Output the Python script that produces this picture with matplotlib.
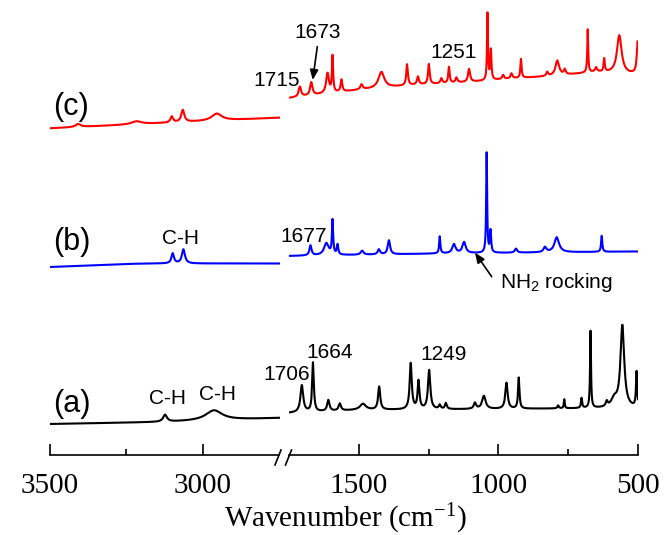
import matplotlib
matplotlib.use("Agg")
import matplotlib.pyplot as plt
import numpy as np

W, H = 664, 535

# baselines: (wavenumber, height) anchors, height in pixel-like units above the axis
a_hi_base = [(2750, 37), (3125, 33), (3500, 31)]
a_lo_base = [(500, 47), (1000, 46), (1500, 45), (1750, 42)]
b_hi_base = [(2750, 191.5), (3200, 191.5), (3500, 188)]
b_lo_base = [(500, 203.5), (1200, 201.5), (1750, 199)]
c_hi_base = [(2750, 337.3), (3125, 332), (3500, 326.7)]
c_lo_base = [(530, 381), (650, 383), (800, 379), (950, 376.5), (1100, 373),
             (1300, 370), (1500, 365), (1750, 357)]

# peaks: (position cm-1, height, fwhm)
a_hi_peaks = [(3124, 7, 15), (2964, 10, 65)]
a_lo_peaks = [(1704, 27, 12), (1664, 49, 7), (1609, 11, 10), (1568, 7, 10),
              (1485, 6, 25), (1427, 23, 9), (1314, 46, 9), (1286, 28, 8),
              (1248, 39, 10), (1210, 4, 8), (1188, 6, 8), (1084, 6, 10),
              (1052, 13, 15), (971, 26, 10), (927, 31, 6), (786, 3, 6),
              (764, 9, 4), (702, 10, 5), (670, 77, 4), (612, 5, 8),
              (585, 8, 25), (556, 82, 16), (505, 35, 5)]
b_hi_peaks = [(3099, 10, 10), (3064, 14, 12)]
b_lo_peaks = [(1673, 10, 9), (1616, 12, 20), (1594, 34, 5), (1576, 10, 6),
              (1488, 4, 12), (1428, 5, 10), (1392, 14, 10), (1210, 17, 5),
              (1159, 9, 14), (1123, 11, 14), (1042, 100, 4), (1028, 22, 5),
              (937, 4, 10), (833, 5, 12), (791, 15, 20), (630, 16, 5)]
c_hi_peaks = [(3408, 3, 20), (3217, 3, 40), (3102, 6, 10), (3066, 12, 12),
              (2955, 7, 40)]
c_lo_peaks = [(1711, 10, 10), (1670, 13, 10), (1612, 20, 12), (1594, 36, 5),
              (1562, 12, 7), (1490, 5, 10), (1419, 16, 25), (1327, 21, 7),
              (1288, 8, 8), (1249, 20, 7), (1204, 5, 8), (1177, 16, 6),
              (1150, 5, 8), (1105, 13, 9), (1039, 67, 4), (1027, 30, 5),
              (983, 4, 8), (953, 5, 8), (919, 19, 5), (825, 4, 8),
              (789, 15, 16), (762, 5, 8), (680, 43, 4), (650, 4, 8),
              (621, 13, 5), (567, 38, 20), (501, 32, 8)]


def spectrum(w, base, peaks):
    bw, by = zip(*base)
    y = np.interp(w, bw, by)
    for p, h, fw in peaks:
        y = y + h / (1 + ((w - p) / (fw / 2)) ** 2)
    return y


w_hi = np.linspace(2750, 3500, 1500)
w_lo = np.linspace(500, 1750, 4000)

fig = plt.figure(figsize=(W / 100, H / 100), dpi=100)
axL = fig.add_axes([50 / W, 80 / H, 229.5 / W, 450 / H])
axR = fig.add_axes([289 / W, 80 / H, 349 / W, 450 / H])

lw = 1.5
for base_hi, pk_hi, base_lo, pk_lo, col in [
        (a_hi_base, a_hi_peaks, a_lo_base, a_lo_peaks, "black"),
        (b_hi_base, b_hi_peaks, b_lo_base, b_lo_peaks, "#0000ff"),
        (c_hi_base, c_hi_peaks, c_lo_base, c_lo_peaks, "#ff0000")]:
    axL.plot(w_hi, spectrum(w_hi, base_hi, pk_hi), color=col, lw=lw)
    axR.plot(w_lo, spectrum(w_lo, base_lo, pk_lo), color=col, lw=lw)

axL.set_xlim(3500, 2750)
axR.set_xlim(1750, 500)
axL.set_xticks([3500, 3000])
axL.set_xticks([3250], minor=True)
axR.set_xticks([1500, 1000, 500])
axR.set_xticks([1250, 750], minor=True)

for ax in (axL, axR):
    ax.set_ylim(0, 450)
    for s in ["top", "right", "left"]:
        ax.spines[s].set_visible(False)
    ax.spines["bottom"].set_linewidth(1.2)
    ax.set_yticks([])
    ax.tick_params(axis="x", which="major", direction="in", length=8, width=1.2, pad=13)
    ax.tick_params(axis="x", which="minor", direction="in", length=4, width=1.2)
    for lab in ax.get_xticklabels():
        lab.set_fontfamily("Liberation Serif")
        lab.set_fontsize(21)
    ax.patch.set_visible(False)


def fpx(x, y):
    return (x, H - y)


sans = "Liberation Sans"
labels = [("(a)", 53, 404, 22), ("C-H", 149, 398, 15), ("C-H", 199, 395, 15),
          ("1706", 263, 374, 15), ("1664", 306, 353, 15), ("1249", 420, 355, 15),
          ("(b)", 53, 242, 22), ("C-H", 162, 238, 15), ("1677", 280, 236, 15),
          (r"NH$\mathdefault{_2}$ rocking", 500, 282, 15),
          ("(c)", 53, 107, 22), ("1715", 253, 80, 15), ("1673", 294, 33, 15),
          ("1251", 430, 53, 15)]
for t, x, y, s in labels:
    fig.text(x / W, 1 - y / H, t, fontsize=s, family=sans, ha="left", va="center")

arrow = dict(arrowstyle="-|>,head_length=0.6,head_width=0.25", color="black", lw=1.2,
             shrinkA=0, shrinkB=0)
fig.add_artist(plt.Annotation("", xy=fpx(475, 252.7), xytext=fpx(491.7, 276.7),
                              xycoords="figure pixels", textcoords="figure pixels",
                              arrowprops=arrow))
fig.add_artist(plt.Annotation("", xy=fpx(312.7, 80), xytext=fpx(317.3, 46.7),
                              xycoords="figure pixels", textcoords="figure pixels",
                              arrowprops=arrow))

# axis break marks
for x0 in (275, 285.5):
    fig.add_artist(plt.Line2D([x0 / W, (x0 + 6) / W], [(H - 465) / H, (H - 450) / H],
                              color="black", lw=1.2))

fig.text(345 / W, 1 - 527 / H, r"Wavenumber (cm$\mathdefault{^{-1}}$)", fontsize=21,
         family="Liberation Serif", ha="center", va="baseline")

fig.savefig("out.png", dpi=100)
